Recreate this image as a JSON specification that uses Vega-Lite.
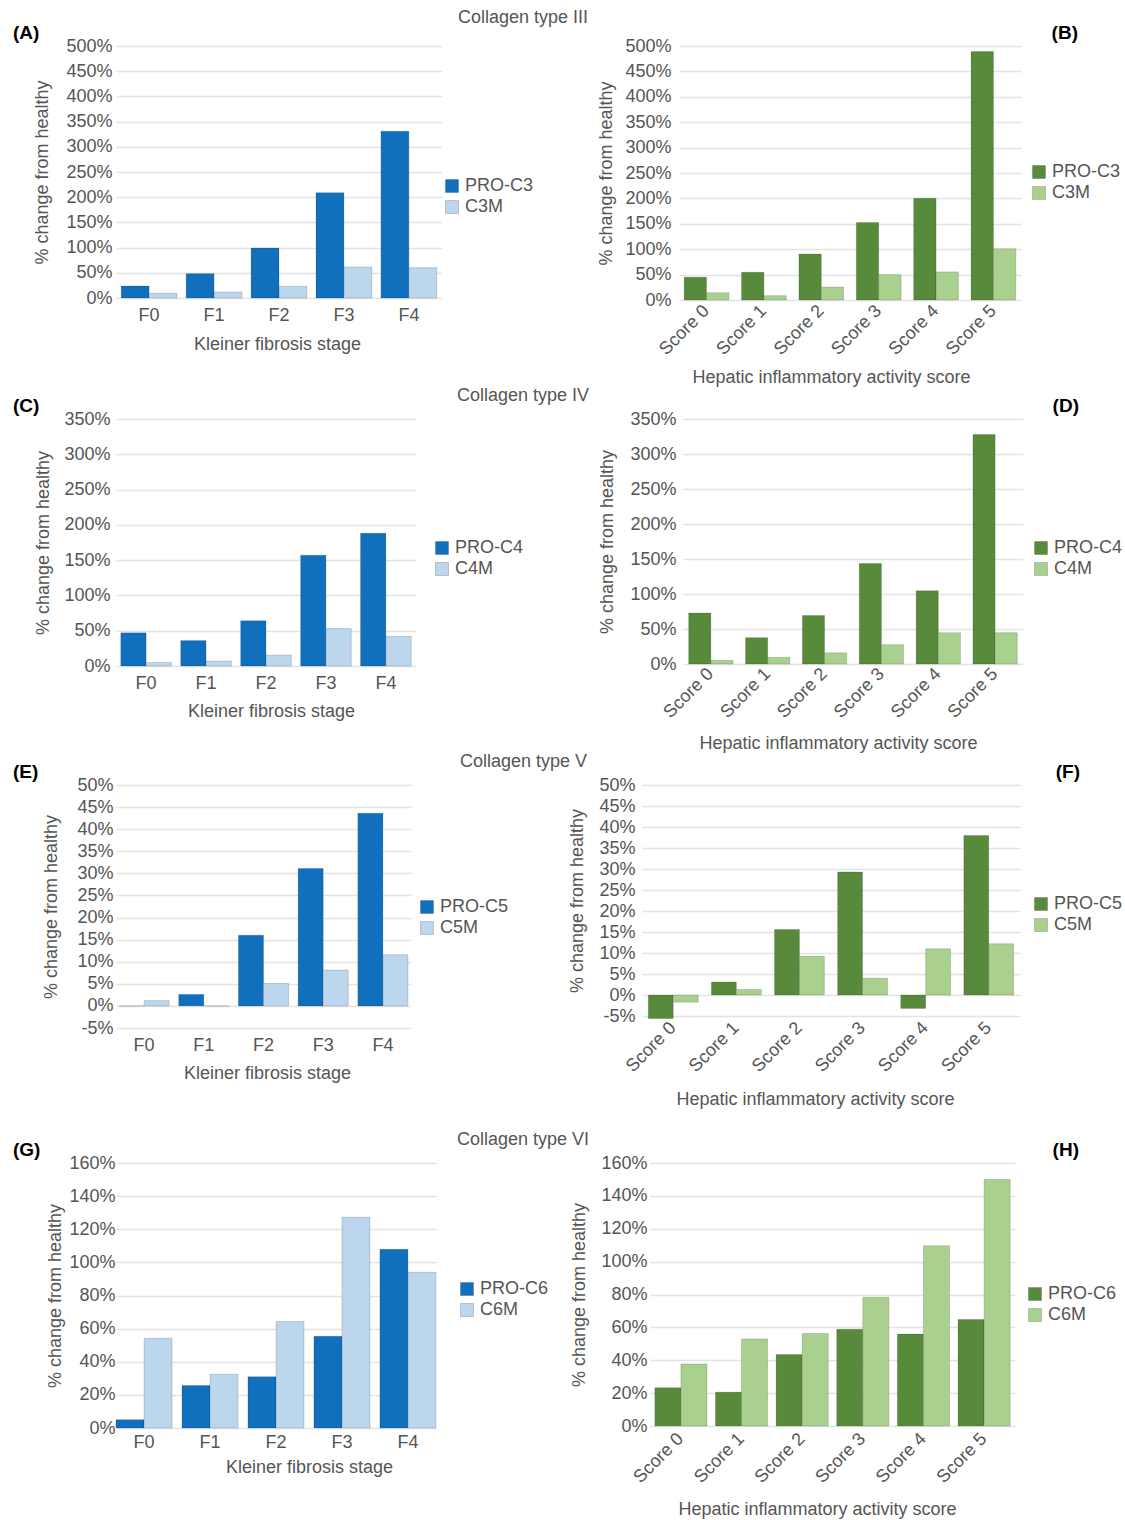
{
  "$schema": "https://vega.github.io/schema/vega-lite/v6.json",
  "padding": {"left": 12, "top": 9, "right": 0, "bottom": 0},
  "config": {
    "font": "Liberation Sans",
    "view": {"stroke": null},
    "axis": {"labelFontSize": 18, "titleFontSize": 18, "labelColor": "#555555", "titleColor": "#555555", "titleFontWeight": "normal", "ticks": false, "domain": false, "gridColor": "#e4e4e4", "gridWidth": 1.5, "labelOverlap": false, "labelBound": false},
    "axisX": {"grid": false},
    "axisY": {"grid": true},
    "legend": {"labelFontSize": 18, "labelColor": "#555555", "symbolType": "square", "symbolSize": 169, "symbolStrokeWidth": 1, "symbolStrokeColor": "rgba(0,0,0,0.18)", "labelOffset": 4, "rowPadding": 3, "padding": 0},
    "title": {"fontSize": 18, "font": "Liberation Sans"}
  },
  "datasets": {
    "A": [
      {"cat": "F0", "series": "PRO-C3", "value": 23.8}, {"cat": "F0", "series": "C3M", "value": 9.3},
      {"cat": "F1", "series": "PRO-C3", "value": 48.3}, {"cat": "F1", "series": "C3M", "value": 11.9},
      {"cat": "F2", "series": "PRO-C3", "value": 99.2}, {"cat": "F2", "series": "C3M", "value": 23.1},
      {"cat": "F3", "series": "PRO-C3", "value": 209}, {"cat": "F3", "series": "C3M", "value": 61.5},
      {"cat": "F4", "series": "PRO-C3", "value": 331}, {"cat": "F4", "series": "C3M", "value": 60.2}
    ],
    "B": [
      {"cat": "Score 0", "series": "PRO-C3", "value": 44.9}, {"cat": "Score 0", "series": "C3M", "value": 14.3},
      {"cat": "Score 1", "series": "PRO-C3", "value": 54.6}, {"cat": "Score 1", "series": "C3M", "value": 8.5},
      {"cat": "Score 2", "series": "PRO-C3", "value": 90.4}, {"cat": "Score 2", "series": "C3M", "value": 25.4},
      {"cat": "Score 3", "series": "PRO-C3", "value": 152.8}, {"cat": "Score 3", "series": "C3M", "value": 50},
      {"cat": "Score 4", "series": "PRO-C3", "value": 200.3}, {"cat": "Score 4", "series": "C3M", "value": 55.3},
      {"cat": "Score 5", "series": "PRO-C3", "value": 489}, {"cat": "Score 5", "series": "C3M", "value": 100.8}
    ],
    "C": [
      {"cat": "F0", "series": "PRO-C4", "value": 47}, {"cat": "F0", "series": "C4M", "value": 5},
      {"cat": "F1", "series": "PRO-C4", "value": 36}, {"cat": "F1", "series": "C4M", "value": 7},
      {"cat": "F2", "series": "PRO-C4", "value": 64}, {"cat": "F2", "series": "C4M", "value": 15.5},
      {"cat": "F3", "series": "PRO-C4", "value": 157}, {"cat": "F3", "series": "C4M", "value": 53},
      {"cat": "F4", "series": "PRO-C4", "value": 188}, {"cat": "F4", "series": "C4M", "value": 42}
    ],
    "D": [
      {"cat": "Score 0", "series": "PRO-C4", "value": 72.8}, {"cat": "Score 0", "series": "C4M", "value": 5.2},
      {"cat": "Score 1", "series": "PRO-C4", "value": 37.6}, {"cat": "Score 1", "series": "C4M", "value": 9.5},
      {"cat": "Score 2", "series": "PRO-C4", "value": 69.4}, {"cat": "Score 2", "series": "C4M", "value": 16},
      {"cat": "Score 3", "series": "PRO-C4", "value": 143.6}, {"cat": "Score 3", "series": "C4M", "value": 27.6},
      {"cat": "Score 4", "series": "PRO-C4", "value": 104.6}, {"cat": "Score 4", "series": "C4M", "value": 44.7},
      {"cat": "Score 5", "series": "PRO-C4", "value": 328}, {"cat": "Score 5", "series": "C4M", "value": 44.7}
    ],
    "E": [
      {"cat": "F0", "series": "PRO-C5", "value": 0}, {"cat": "F0", "series": "C5M", "value": 1.2},
      {"cat": "F1", "series": "PRO-C5", "value": 2.6}, {"cat": "F1", "series": "C5M", "value": 0},
      {"cat": "F2", "series": "PRO-C5", "value": 16.0}, {"cat": "F2", "series": "C5M", "value": 5.1},
      {"cat": "F3", "series": "PRO-C5", "value": 31.1}, {"cat": "F3", "series": "C5M", "value": 8.1},
      {"cat": "F4", "series": "PRO-C5", "value": 43.6}, {"cat": "F4", "series": "C5M", "value": 11.6}
    ],
    "F": [
      {"cat": "Score 0", "series": "PRO-C5", "value": -5.6}, {"cat": "Score 0", "series": "C5M", "value": -1.7},
      {"cat": "Score 1", "series": "PRO-C5", "value": 3.1}, {"cat": "Score 1", "series": "C5M", "value": 1.3},
      {"cat": "Score 2", "series": "PRO-C5", "value": 15.6}, {"cat": "Score 2", "series": "C5M", "value": 9.2},
      {"cat": "Score 3", "series": "PRO-C5", "value": 29.3}, {"cat": "Score 3", "series": "C5M", "value": 4},
      {"cat": "Score 4", "series": "PRO-C5", "value": -3.2}, {"cat": "Score 4", "series": "C5M", "value": 11},
      {"cat": "Score 5", "series": "PRO-C5", "value": 38}, {"cat": "Score 5", "series": "C5M", "value": 12.2}
    ],
    "G": [
      {"cat": "F0", "series": "PRO-C6", "value": 5}, {"cat": "F0", "series": "C6M", "value": 54.2},
      {"cat": "F1", "series": "PRO-C6", "value": 25.6}, {"cat": "F1", "series": "C6M", "value": 32.5},
      {"cat": "F2", "series": "PRO-C6", "value": 31}, {"cat": "F2", "series": "C6M", "value": 64.3},
      {"cat": "F3", "series": "PRO-C6", "value": 55.4}, {"cat": "F3", "series": "C6M", "value": 127.2},
      {"cat": "F4", "series": "PRO-C6", "value": 107.9}, {"cat": "F4", "series": "C6M", "value": 94}
    ],
    "H": [
      {"cat": "Score 0", "series": "PRO-C6", "value": 23.3}, {"cat": "Score 0", "series": "C6M", "value": 37.7},
      {"cat": "Score 1", "series": "PRO-C6", "value": 20.6}, {"cat": "Score 1", "series": "C6M", "value": 53},
      {"cat": "Score 2", "series": "PRO-C6", "value": 43.5}, {"cat": "Score 2", "series": "C6M", "value": 56.3},
      {"cat": "Score 3", "series": "PRO-C6", "value": 58.9}, {"cat": "Score 3", "series": "C6M", "value": 78.3},
      {"cat": "Score 4", "series": "PRO-C6", "value": 55.9}, {"cat": "Score 4", "series": "C6M", "value": 109.7},
      {"cat": "Score 5", "series": "PRO-C6", "value": 64.8}, {"cat": "Score 5", "series": "C6M", "value": 150}
    ]
  },
  "resolve": {"scale": {"color": "independent", "xOffset": "independent", "x": "independent", "y": "independent"}, "legend": {"color": "independent"}},
  "spacing": 22,
  "vconcat": [
    {
      "spacing": 0,
      "resolve": {"scale": {"color": "independent", "xOffset": "independent", "x": "independent", "y": "independent"}, "legend": {"color": "independent"}},
      "vconcat": [
        {
          "title": {"text": "Collagen type III", "anchor": "start", "dx": 445, "dy": 3, "offset": 0, "fontSize": 18, "fontWeight": "normal", "color": "#555555"},
          "spacing": 63,
          "resolve": {"scale": {"color": "independent", "xOffset": "independent", "x": "independent", "y": "independent"}, "legend": {"color": "independent"}},
          "hconcat": [
            {
              "width": 326, "height": 252,
              "title": {"text": "(A)", "anchor": "start", "frame": "bounds", "fontWeight": "bold", "color": "#000000", "fontSize": 19, "dx": -21, "dy": 8, "offset": 2},
              "data": {"name": "A"},
              "mark": {"type": "bar", "stroke": "rgba(0,0,0,0.15)", "strokeWidth": 1},
              "encoding": {
                "x": {"field": "cat", "type": "nominal", "sort": null, "scale": {"paddingInner": 0.14, "paddingOuter": 0.08}, "axis": {"title": "Kleiner fibrosis stage", "labelAngle": 0, "labelPadding": 8, "titlePadding": 11, "titleX": 161}},
                "xOffset": {"field": "series", "type": "nominal", "sort": null},
                "y": {"field": "value", "type": "quantitative", "scale": {"domain": [0, 500], "nice": false}, "axis": {"values": [0, 50, 100, 150, 200, 250, 300, 350, 400, 450, 500], "labelExpr": "datum.value + '%'", "title": "% change from healthy", "labelPadding": 4, "titlePadding": 14}},
                "color": {"field": "series", "type": "nominal", "sort": null, "scale": {"domain": ["PRO-C3", "C3M"], "range": ["#1170BE", "#BCD6EE"]}, "legend": {"title": null, "orient": "none", "legendX": 327, "legendY": 131}}
              }
            },
            {
              "width": 342, "height": 254,
              "title": {"text": "(B)", "anchor": "end", "frame": "group", "fontWeight": "bold", "color": "#000000", "fontSize": 19, "dx": 57, "dy": 8, "offset": 2},
              "data": {"name": "B"},
              "mark": {"type": "bar", "stroke": "rgba(0,0,0,0.15)", "strokeWidth": 1},
              "encoding": {
                "x": {"field": "cat", "type": "nominal", "sort": null, "scale": {"paddingInner": 0.22, "paddingOuter": 0.09}, "axis": {"title": "Hepatic inflammatory activity score", "labelAngle": -45, "labelAlign": "right", "labelBaseline": "middle", "labelPadding": 8, "titlePadding": 10, "titleX": 152}},
                "xOffset": {"field": "series", "type": "nominal", "sort": null},
                "y": {"field": "value", "type": "quantitative", "scale": {"domain": [0, 500], "nice": false}, "axis": {"values": [0, 50, 100, 150, 200, 250, 300, 350, 400, 450, 500], "labelExpr": "datum.value + '%'", "title": "% change from healthy", "labelPadding": 8, "titlePadding": 9}},
                "color": {"field": "series", "type": "nominal", "sort": null, "scale": {"domain": ["PRO-C3", "C3M"], "range": ["#578B3B", "#A9D08E"]}, "legend": {"title": null, "orient": "none", "legendX": 351, "legendY": 117}}
              }
            }
          ]
        },
        {
          "title": {"text": "Collagen type IV", "anchor": "start", "dx": 444, "dy": 8, "offset": 0, "fontSize": 18, "fontWeight": "normal", "color": "#555555"},
          "spacing": 74,
          "resolve": {"scale": {"color": "independent", "xOffset": "independent", "x": "independent", "y": "independent"}, "legend": {"color": "independent"}},
          "hconcat": [
            {
              "width": 300, "height": 247,
              "title": {"text": "(C)", "anchor": "start", "frame": "bounds", "fontWeight": "bold", "color": "#000000", "fontSize": 19, "dx": -22, "dy": 8, "offset": 2},
              "data": {"name": "C"},
              "mark": {"type": "bar", "stroke": "rgba(0,0,0,0.15)", "strokeWidth": 1},
              "encoding": {
                "x": {"field": "cat", "type": "nominal", "sort": null, "scale": {"paddingInner": 0.155, "paddingOuter": 0.08}, "axis": {"title": "Kleiner fibrosis stage", "labelAngle": 0, "labelPadding": 8, "titlePadding": 10, "titleX": 155}},
                "xOffset": {"field": "series", "type": "nominal", "sort": null},
                "y": {"field": "value", "type": "quantitative", "scale": {"domain": [0, 350], "nice": false}, "axis": {"values": [0, 50, 100, 150, 200, 250, 300, 350], "labelExpr": "datum.value + '%'", "title": "% change from healthy", "labelPadding": 6, "titlePadding": 11}},
                "color": {"field": "series", "type": "nominal", "sort": null, "scale": {"domain": ["PRO-C4", "C4M"], "range": ["#1170BE", "#BCD6EE"]}, "legend": {"title": null, "orient": "none", "legendX": 317, "legendY": 120}}
              }
            },
            {
              "width": 340, "height": 245,
              "title": {"text": "(D)", "anchor": "end", "frame": "group", "fontWeight": "bold", "color": "#000000", "fontSize": 19, "dx": 56, "dy": 8, "offset": 2},
              "data": {"name": "D"},
              "mark": {"type": "bar", "stroke": "rgba(0,0,0,0.15)", "strokeWidth": 1},
              "encoding": {
                "x": {"field": "cat", "type": "nominal", "sort": null, "scale": {"paddingInner": 0.22, "paddingOuter": 0.1}, "axis": {"title": "Hepatic inflammatory activity score", "labelAngle": -45, "labelAlign": "right", "labelBaseline": "middle", "labelPadding": 7, "titlePadding": 13, "titleX": 155}},
                "xOffset": {"field": "series", "type": "nominal", "sort": null},
                "y": {"field": "value", "type": "quantitative", "scale": {"domain": [0, 350], "nice": false}, "axis": {"values": [0, 50, 100, 150, 200, 250, 300, 350], "labelExpr": "datum.value + '%'", "title": "% change from healthy", "labelPadding": 7, "titlePadding": 13}},
                "color": {"field": "series", "type": "nominal", "sort": null, "scale": {"domain": ["PRO-C4", "C4M"], "range": ["#578B3B", "#A9D08E"]}, "legend": {"title": null, "orient": "none", "legendX": 349, "legendY": 120}}
              }
            }
          ]
        },
        {
          "title": {"text": "Collagen type V", "anchor": "start", "dx": 447, "dy": 8, "offset": 0, "fontSize": 18, "fontWeight": "normal", "color": "#555555"},
          "spacing": 59,
          "resolve": {"scale": {"color": "independent", "xOffset": "independent", "x": "independent", "y": "independent"}, "legend": {"color": "independent"}},
          "hconcat": [
            {
              "width": 295, "height": 243,
              "title": {"text": "(E)", "anchor": "start", "frame": "bounds", "fontWeight": "bold", "color": "#000000", "fontSize": 19, "dx": -30, "dy": 8, "offset": 2},
              "data": {"name": "E"},
              "mark": {"type": "bar", "stroke": "rgba(0,0,0,0.15)", "strokeWidth": 1},
              "encoding": {
                "x": {"field": "cat", "type": "nominal", "sort": null, "scale": {"paddingInner": 0.16, "paddingOuter": 0.05}, "axis": {"title": "Kleiner fibrosis stage", "labelAngle": 0, "labelPadding": 8, "titlePadding": 10, "titleX": 151}},
                "xOffset": {"field": "series", "type": "nominal", "sort": null},
                "y": {"field": "value", "type": "quantitative", "scale": {"domain": [-5, 50], "nice": false}, "axis": {"values": [-5, 0, 5, 10, 15, 20, 25, 30, 35, 40, 45, 50], "labelExpr": "datum.value + '%'", "title": "% change from healthy", "labelPadding": 3, "titlePadding": 16}},
                "color": {"field": "series", "type": "nominal", "sort": null, "scale": {"domain": ["PRO-C5", "C5M"], "range": ["#1170BE", "#BCD6EE"]}, "legend": {"title": null, "orient": "none", "legendX": 302, "legendY": 113}}
              }
            },
            {
              "width": 378, "height": 231,
              "title": {"text": "(F)", "anchor": "end", "frame": "group", "fontWeight": "bold", "color": "#000000", "fontSize": 19, "dx": 60, "dy": 8, "offset": 2},
              "data": {"name": "F"},
              "mark": {"type": "bar", "stroke": "rgba(0,0,0,0.15)", "strokeWidth": 1},
              "encoding": {
                "x": {"field": "cat", "type": "nominal", "sort": null, "scale": {"paddingInner": 0.21, "paddingOuter": 0.1}, "axis": {"title": "Hepatic inflammatory activity score", "labelAngle": -45, "labelAlign": "right", "labelBaseline": "middle", "labelPadding": 9, "titlePadding": 15, "titleX": 173}},
                "xOffset": {"field": "series", "type": "nominal", "sort": null},
                "y": {"field": "value", "type": "quantitative", "scale": {"domain": [-5, 50], "nice": false}, "axis": {"values": [-5, 0, 5, 10, 15, 20, 25, 30, 35, 40, 45, 50], "labelExpr": "datum.value + '%'", "title": "% change from healthy", "labelPadding": 7, "titlePadding": 12}},
                "color": {"field": "series", "type": "nominal", "sort": null, "scale": {"domain": ["PRO-C5", "C5M"], "range": ["#578B3B", "#A9D08E"]}, "legend": {"title": null, "orient": "none", "legendX": 390, "legendY": 110}}
              }
            }
          ]
        }
      ]
    },
    {
      "title": {"text": "Collagen type VI", "anchor": "start", "dx": 444, "dy": 8, "offset": 0, "fontSize": 18, "fontWeight": "normal", "color": "#555555"},
      "spacing": 21,
      "resolve": {"scale": {"color": "independent", "xOffset": "independent", "x": "independent", "y": "independent"}, "legend": {"color": "independent"}},
      "hconcat": [
        {
          "width": 320, "height": 265,
          "title": {"text": "(G)", "anchor": "start", "frame": "bounds", "fontWeight": "bold", "color": "#000000", "fontSize": 19, "dx": -34, "dy": 8, "offset": 2},
          "data": {"name": "G"},
          "mark": {"type": "bar", "stroke": "rgba(0,0,0,0.15)", "strokeWidth": 1},
          "encoding": {
            "x": {"field": "cat", "type": "nominal", "sort": null, "scale": {"paddingInner": 0.15, "paddingOuter": 0.0}, "axis": {"title": "Kleiner fibrosis stage", "labelAngle": 0, "labelPadding": 5, "titlePadding": 7, "titleX": 193}},
            "xOffset": {"field": "series", "type": "nominal", "sort": null},
            "y": {"field": "value", "type": "quantitative", "scale": {"domain": [0, 160], "nice": false}, "axis": {"values": [0, 20, 40, 60, 80, 100, 120, 140, 160], "labelExpr": "datum.value + '%'", "title": "% change from healthy", "labelPadding": 1, "titlePadding": 4}},
            "color": {"field": "series", "type": "nominal", "sort": null, "scale": {"domain": ["PRO-C6", "C6M"], "range": ["#1170BE", "#BCD6EE"]}, "legend": {"title": null, "orient": "none", "legendX": 342, "legendY": 117}}
          }
        },
        {
          "width": 365, "height": 263,
          "title": {"text": "(H)", "anchor": "end", "frame": "group", "fontWeight": "bold", "color": "#000000", "fontSize": 19, "dx": 64, "dy": 8, "offset": 2},
          "data": {"name": "H"},
          "mark": {"type": "bar", "stroke": "rgba(0,0,0,0.15)", "strokeWidth": 1},
          "encoding": {
            "x": {"field": "cat", "type": "nominal", "sort": null, "scale": {"paddingInner": 0.14, "paddingOuter": 0.08}, "axis": {"title": "Hepatic inflammatory activity score", "labelAngle": -45, "labelAlign": "right", "labelBaseline": "middle", "labelPadding": 10, "titlePadding": 14, "titleX": 167}},
            "xOffset": {"field": "series", "type": "nominal", "sort": null},
            "y": {"field": "value", "type": "quantitative", "scale": {"domain": [0, 160], "nice": false}, "axis": {"values": [0, 20, 40, 60, 80, 100, 120, 140, 160], "labelExpr": "datum.value + '%'", "title": "% change from healthy", "labelPadding": 3, "titlePadding": 12}},
            "color": {"field": "series", "type": "nominal", "sort": null, "scale": {"domain": ["PRO-C6", "C6M"], "range": ["#578B3B", "#A9D08E"]}, "legend": {"title": null, "orient": "none", "legendX": 376, "legendY": 122}}
          }
        }
      ]
    }
  ]
}
